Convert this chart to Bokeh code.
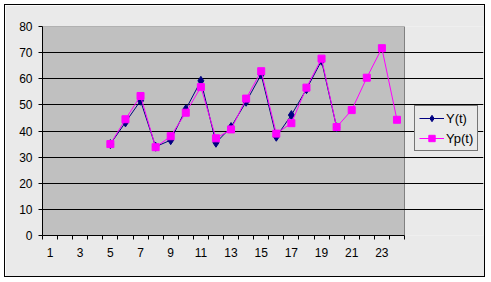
from bokeh.plotting import figure
from bokeh.models import FixedTicker, Legend, LegendItem
from bokeh.embed import file_html
from bokeh.resources import INLINE

# data
t_y = list(range(5, 21))
y_vals = [35.0, 43.3, 51.6, 34.0, 36.5, 48.3, 59.2, 35.5, 41.5, 51.2, 61.6, 37.8, 46.1, 56.0, 66.9, 41.4]
t_yp = list(range(5, 25))
yp_vals = [35.0, 44.5, 53.4, 33.8, 38.0, 47.0, 56.8, 37.2, 40.6, 52.4, 62.9, 39.0,
           43.0, 56.6, 67.7, 41.5, 48.0, 60.4, 71.7, 44.3]
n_categories = 24
x_label_ticks = [1, 3, 5, 7, 9, 11, 13, 15, 17, 19, 21, 23]
y_ticks = [0, 10, 20, 30, 40, 50, 60, 70, 80]
series_names = ["Y(t)", "Yp(t)"]

FONT = "Liberation Sans"

x_lo = 0.5
x_hi = n_categories + 0.5
x_boundaries = [x_lo + i for i in range(n_categories + 1)]
frame_w = 441
plot_w = 362
x_end = x_lo + n_categories * frame_w / plot_w

p = figure(width=479, height=271, x_range=(x_lo, x_end), y_range=(0, 80),
           output_backend="svg", toolbar_location=None,
           min_border_left=37, min_border_right=1, min_border_top=21, min_border_bottom=41)
p.margin = (5, 0, 0, 5)
p.styles = {"outline": "1px solid black"}
p.border_fill_color = "#eaeaea"
p.background_fill_color = "#eaeaea"
p.outline_line_color = None

# plot area
p.quad(left=[x_lo], right=[x_hi], bottom=[y_ticks[0]], top=[y_ticks[-1]],
       fill_color="#c0c0c0", line_color="#808080", line_width=1, level="image")

p.xgrid.visible = False
p.ygrid.grid_line_color = "black"
p.ygrid.grid_line_width = 1
p.ygrid.bounds = (x_lo, x_hi)

p.yaxis.ticker = FixedTicker(ticks=y_ticks, minor_ticks=[])
p.yaxis.major_tick_out = 4
p.yaxis.major_tick_in = 0
p.yaxis.major_tick_line_color = "black"
p.yaxis.axis_line_color = "black"
p.yaxis.major_label_standoff = 6
p.yaxis.major_label_text_font = FONT
p.yaxis.major_label_text_font_size = "12px"
p.yaxis.major_label_text_color = "black"

p.xaxis.ticker = FixedTicker(ticks=x_label_ticks, minor_ticks=x_boundaries)
p.xaxis.major_label_overrides = {t: str(t) for t in x_label_ticks}
p.xaxis.bounds = (x_lo, x_hi)
p.xaxis.major_tick_line_color = None
p.xaxis.major_tick_out = 4
p.xaxis.major_tick_in = 0
p.xaxis.minor_tick_out = 4
p.xaxis.minor_tick_in = 0
p.xaxis.minor_tick_line_color = "black"
p.xaxis.axis_line_color = "black"
p.xaxis.major_label_standoff = 8
p.xaxis.major_label_text_font = FONT
p.xaxis.major_label_text_font_size = "12px"
p.xaxis.major_label_text_color = "black"

l1 = p.line(t_y, y_vals, line_color="#000080", line_width=1)
m1 = p.scatter(t_y, y_vals, marker="diamond", size=9, fill_color="#000080", line_color="#000080")
l2 = p.line(t_yp, yp_vals, line_color="#ff00ff", line_width=1)
m2 = p.scatter(t_yp, yp_vals, marker="square", size=7, fill_color="#ff00ff", line_color="#ff00ff")

legend = Legend(items=[LegendItem(label=series_names[0], renderers=[l1, m1]),
                       LegendItem(label=series_names[1], renderers=[l2, m2])],
                location=(372, 84))
legend.border_line_color = "black"
legend.background_fill_color = "#eaeaea"
legend.background_fill_alpha = 1
legend.label_text_font = FONT
legend.label_text_font_size = "13px"
legend.label_text_color = "black"
legend.glyph_width = 25
legend.glyph_height = 16
legend.label_height = 16
legend.label_standoff = 2
legend.spacing = 4
legend.padding = 4
legend.margin = 0
p.add_layout(legend)

open("out.html", "w").write(file_html(p, INLINE))
